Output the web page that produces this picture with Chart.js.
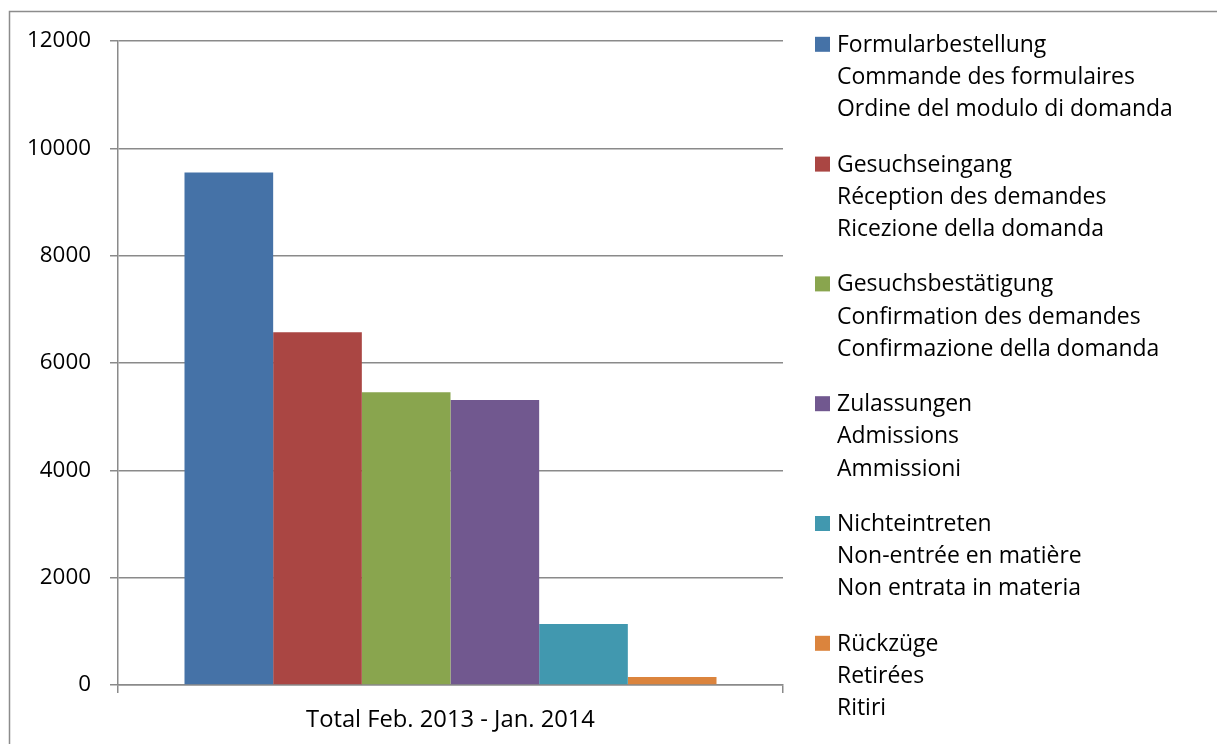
<!DOCTYPE html>
<html><head><meta charset="utf-8">
<script src="https://cdn.jsdelivr.net/npm/chart.js@4.4.1/dist/chart.umd.min.js"></script>
<style>html,body{margin:0;padding:0;background:#fff;overflow:hidden}canvas{display:block}</style>
</head><body>
<canvas id="c" width="1217" height="744"></canvas>
<script>
// ---- data ----
const categories = ['Total Feb. 2013 - Jan. 2014'];
const seriesLabels = [
  ['Formularbestellung', 'Commande des formulaires', 'Ordine del modulo di domanda'],
  ['Gesuchseingang', 'Réception des demandes', 'Ricezione della domanda'],
  ['Gesuchsbestätigung', 'Confirmation des demandes', 'Confirmazione della domanda'],
  ['Zulassungen', 'Admissions', 'Ammissioni'],
  ['Nichteintreten', 'Non-entrée en matière', 'Non entrata in materia'],
  ['Rückzüge', 'Retirées', 'Ritiri']
];
const seriesValues = [9550, 6575, 5455, 5310, 1135, 150];
const seriesColors = ['#4572A7', '#AA4643', '#89A54E', '#71588F', '#4198AF', '#DB843D'];
const yTickValues = [0, 2000, 4000, 6000, 8000, 10000, 12000];

// ---- style helpers ----
const FAMILY = '"Open Sans"';
function fitSize(text, target) {
  const c = document.createElement('canvas').getContext('2d');
  c.font = '100px ' + FAMILY;
  return 100 * target / c.measureText(text).width;
}
const legendSize = fitSize('Ordine del modulo di domanda', 336);
const tickSize = fitSize('12000', 64);
const xSize = fitSize('Total Feb. 2013 - Jan. 2014', 289);
const GRID = '#8a8a8a';

const frame = {
  id: 'frame',
  beforeDraw(chart) {
    const ctx = chart.ctx;
    ctx.save();
    ctx.fillStyle = '#fff';
    ctx.fillRect(0, 0, chart.width, chart.height);
    ctx.strokeStyle = '#8c8c8c';
    ctx.lineWidth = 1.5;
    ctx.strokeRect(9.5, 11.5, 1400, 900);
    ctx.restore();
  }
};

const sideLegend = {
  id: 'sideLegend',
  afterDraw(chart) {
    const ctx = chart.ctx;
    ctx.save();
    ctx.font = legendSize + 'px ' + FAMILY;
    ctx.textBaseline = 'middle';
    ctx.textAlign = 'left';
    chart.data.datasets.forEach((ds, i) => {
      const y0 = 44.3 + i * 119.8;
      ctx.fillStyle = ds.backgroundColor;
      ctx.fillRect(815, y0 - 7.5, 15, 15);
      ctx.fillStyle = '#000';
      ds.label.forEach((line, j) => ctx.fillText(line, 837, y0 + 1 + j * 32.2));
    });
    ctx.restore();
  }
};

new Chart(document.getElementById('c'), {
  type: 'bar',
  data: {
    labels: categories,
    datasets: seriesLabels.map((lab, i) => ({
      label: lab,
      data: [seriesValues[i]],
      backgroundColor: seriesColors[i],
      borderWidth: 0,
      categoryPercentage: 0.8,
      barPercentage: 1.0
    }))
  },
  options: {
    responsive: false,
    devicePixelRatio: 1,
    animation: false,
    layout: { padding: { left: 10, right: 434, top: 41, bottom: 0 } },
    plugins: { legend: { display: false }, tooltip: { enabled: false } },
    scales: {
      x: {
        offset: true,
        grid: { display: true, drawOnChartArea: false, drawTicks: true, tickLength: 8, color: GRID, lineWidth: 1.5, offset: true },
        border: { display: true, color: GRID, width: 1.5 },
        ticks: { color: '#000', font: { family: FAMILY, size: xSize }, padding: 13, maxRotation: 0 },
        afterFit(s) { s.height = 744 - 685; }
      },
      y: {
        min: 0, max: 12000,
        afterBuildTicks(s) { s.ticks = yTickValues.map(v => ({ value: v })); },
        grid: { color: GRID, lineWidth: 1.5, tickLength: 8, drawTicks: true },
        border: { display: true, color: GRID, width: 1.5 },
        ticks: { color: '#000', font: { family: FAMILY, size: tickSize }, padding: 19, callback: v => String(v) },
        afterFit(s) { s.width = 108; }
      }
    }
  },
  plugins: [frame, sideLegend]
});
</script>
</body></html>
